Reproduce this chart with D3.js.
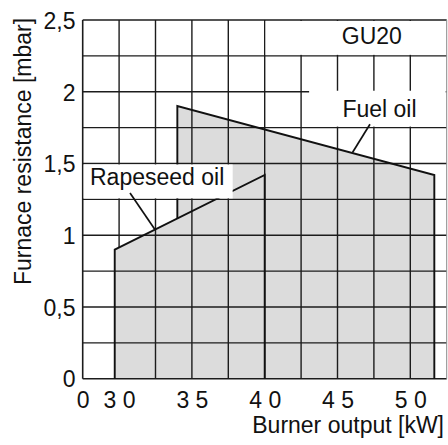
<!DOCTYPE html>
<html>
<head>
<meta charset="utf-8">
<script src="https://cdn.jsdelivr.net/npm/d3@7"></script>
<style>
  body { margin: 0; background: #fff; }
  text { font-family: "Liberation Sans", Arial, sans-serif; fill: #111; }
</style>
</head>
<body>
<div id="chart"></div>
<script>
// values
const xTickValues = [27.5, 30, 35, 40, 45, 50];
const xTickLabels = ["0", "3 0", "3 5", "4 0", "4 5", "5 0"];
const yTickValues = [0, 0.5, 1, 1.5, 2, 2.5];
const rapeseedOil = [[29.7, 0], [29.7, 0.9], [40, 1.42], [40, 0]];
const fuelOil = [[34, 0], [34, 1.9], [51.65, 1.42], [51.65, 0]];

let width = 448, height = 445;
let margin = {top: 20, right: 1.3, bottom: 66.3, left: 82.7};
let fs = 23;

let svg = d3.select('#chart').append('svg')
  .attr('width', width)
  .attr('height', height);

let x = d3.scaleLinear().domain([27.5, 52.5]).range([margin.left, width - margin.right]);
let y = d3.scaleLinear().domain([0, 2.5]).range([height - margin.bottom, margin.top]);

let gridX = d3.range(27.5, 52.6, 2.5);
let gridY = d3.range(0, 2.6, 0.25);

function vline(g, v, col, w) {
  g.append('line')
    .attr('x1', x(v)).attr('x2', x(v))
    .attr('y1', y(0)).attr('y2', y(2.5))
    .attr('stroke', col).attr('stroke-width', w);
}

// the 30 kW gridline disappears under the grey area in the original
let gridUnder = svg.append('g');
vline(gridUnder, 30, '#1c1c1c', 1.4);

// grey areas
let line = d3.line().x(d => x(d[0])).y(d => y(d[1]));
svg.append('path').attr('d', line(rapeseedOil) + 'Z').attr('fill', '#dcdcdc');
svg.append('path').attr('d', line(fuelOil) + 'Z').attr('fill', '#dcdcdc');

// grid on top
let grid = svg.append('g');
gridY.forEach(v => {
  grid.append('line')
    .attr('x1', x(27.5)).attr('x2', x(52.5))
    .attr('y1', y(v)).attr('y2', y(v))
    .attr('stroke', '#1c1c1c').attr('stroke-width', v == 0 || v == 2.5 ? 1.6 : 1.4);
});
gridX.filter(v => v != 30 && v != 52.5).forEach(v => vline(grid, v, '#1c1c1c', v == 27.5 ? 1.6 : 1.4));
vline(grid, 52.5, '#8a8a8a', 1);

// outlines
svg.append('path')
  .attr('d', line(rapeseedOil))
  .attr('fill', 'none').attr('stroke', '#111').attr('stroke-width', 1.9);

// fuel oil left edge starts where it meets the rapeseed line
let rapeAt = d3.scaleLinear()
  .domain([rapeseedOil[1][0], rapeseedOil[2][0]])
  .range([rapeseedOil[1][1], rapeseedOil[2][1]]);
let fuelOutline = [[fuelOil[1][0], rapeAt(fuelOil[1][0])]].concat(fuelOil.slice(1));
svg.append('path')
  .attr('d', line(fuelOutline))
  .attr('fill', 'none').attr('stroke', '#111').attr('stroke-width', 1.9);

// label boxes
svg.append('rect')
  .attr('x', x(40) + 1).attr('y', y(2.5) + 1)
  .attr('width', x(52.5) - x(40) - 2).attr('height', y(2.25) - y(2.5) - 2)
  .attr('fill', '#fff');
svg.append('rect')
  .attr('x', x(43.05)).attr('y', y(2) - 1)
  .attr('width', x(52.5) - x(43.05) - 1).attr('height', y(1.75) - y(2))
  .attr('fill', '#fff');
svg.append('rect')
  .attr('x', x(27.5) + 1).attr('y', y(1.5) + 1)
  .attr('width', x(37.8) - x(27.5) - 1).attr('height', y(1.25) - y(1.5) - 2)
  .attr('fill', '#fff');

svg.append('text').text('GU20')
  .attr('x', 371.8).attr('y', 43.5)
  .attr('text-anchor', 'middle').attr('font-size', fs);
svg.append('text').text('Fuel oil')
  .attr('x', 379.5).attr('y', 116.7)
  .attr('text-anchor', 'middle').attr('font-size', fs);
svg.append('text').text('Rapeseed oil')
  .attr('x', x(27.5) + 7.3).attr('y', 185)
  .attr('font-size', fs);

// leader lines
svg.append('line')
  .attr('x1', x(30.75)).attr('y1', y(1.294))
  .attr('x2', x(32.46)).attr('y2', y(1.04))
  .attr('stroke', '#111').attr('stroke-width', 1.7);
svg.append('line')
  .attr('x1', x(47.23)).attr('y1', y(1.773))
  .attr('x2', x(46.04)).attr('y2', y(1.578))
  .attr('stroke', '#111').attr('stroke-width', 1.7);

// axes
let xAxis = svg.append('g')
  .attr('transform', 'translate(0,' + y(0) + ')')
  .call(d3.axisBottom(x).tickValues(xTickValues)
    .tickFormat((d, i) => xTickLabels[i]).tickSize(0).tickPadding(13));
xAxis.select('.domain').remove();
xAxis.selectAll('text').attr('font-size', fs).attr('font-family', null).attr('fill', '#111');

let yAxis = svg.append('g')
  .attr('transform', 'translate(' + x(27.5) + ',0)')
  .call(d3.axisLeft(y).tickValues(yTickValues)
    .tickFormat(d => String(d).replace('.', ',')).tickSize(0).tickPadding(7.2));
yAxis.select('.domain').remove();
yAxis.selectAll('text').attr('font-size', fs).attr('font-family', null).attr('fill', '#111').attr('dy', '0.36em');

svg.append('text').text('Burner output [kW]')
  .attr('x', 444).attr('y', 433.3)
  .attr('text-anchor', 'end').attr('font-size', fs);

svg.append('text').text('Furnace resistance [mbar]')
  .attr('transform', 'translate(30.5,151.5) rotate(-90)')
  .attr('text-anchor', 'middle').attr('font-size', fs);
</script>
</body>
</html>
